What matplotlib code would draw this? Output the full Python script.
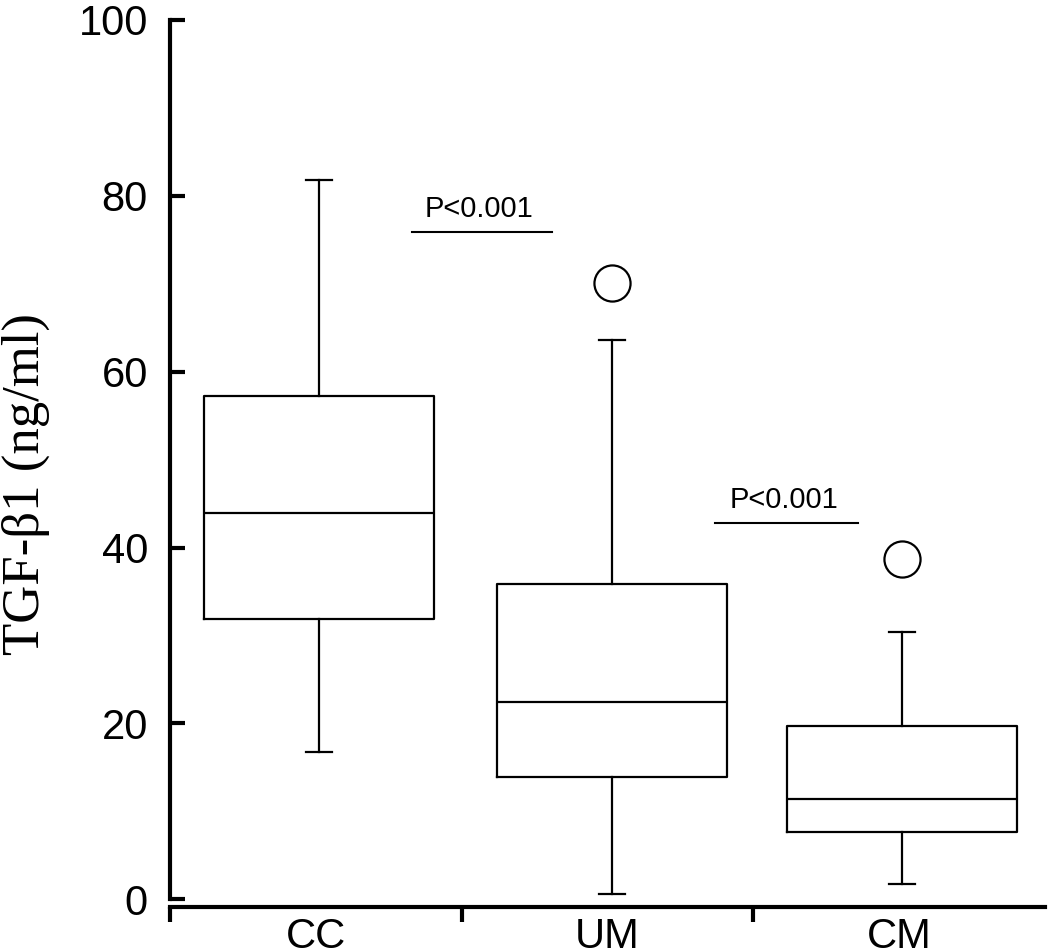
import matplotlib
matplotlib.use("Agg")
import matplotlib.pyplot as plt

# group names and box statistics (ng/ml)
groups = ["CC", "UM", "CM"]
whislo = [16.8, 0.6, 1.7]
q1 = [31.9, 13.9, 7.7]
med = [43.9, 22.4, 11.4]
q3 = [57.2, 35.9, 19.7]
whishi = [81.8, 63.6, 30.4]
fliers = [[], [70.1], [38.7]]

# significance brackets: (x start, x end, y, label)
sig_x0 = [0.83, 1.87]
sig_x1 = [1.31, 2.36]
sig_y = [75.9, 42.8]
sig_txt = ["P<0.001", "P<0.001"]

stats = []
for i in range(len(groups)):
    stats.append(dict(label=groups[i], whislo=whislo[i], q1=q1[i], med=med[i],
                      q3=q3[i], whishi=whishi[i], fliers=fliers[i]))

fig = plt.figure(figsize=(10.5, 9.52), dpi=100)
ax = fig.add_axes([0.162, 0.047, 0.833, 0.932])

lw = 1.6
ax.bxp(stats, positions=[0.51, 1.515, 2.51], widths=0.79, capwidths=0.09,
       showfliers=True, patch_artist=False,
       boxprops=dict(color="black", linewidth=lw),
       medianprops=dict(color="black", linewidth=lw),
       whiskerprops=dict(color="black", linewidth=lw),
       capprops=dict(color="black", linewidth=lw),
       flierprops=dict(marker="o", markersize=26, markerfacecolor="white",
                       markeredgecolor="black", markeredgewidth=1.6))

for i in range(len(sig_y)):
    ax.plot([sig_x0[i], sig_x1[i]], [sig_y[i], sig_y[i]], color="black", lw=1.5)
    ax.text((sig_x0[i] + sig_x1[i]) / 2 - 0.01, sig_y[i] + 1.0, sig_txt[i],
            ha="center", va="bottom", fontsize=21, family="Liberation Sans")

ax.set_xlim(0, 3)
ax.set_ylim(-0.9, 100)
ax.spines["top"].set_visible(False)
ax.spines["right"].set_visible(False)
ax.spines["left"].set_linewidth(3)
ax.spines["bottom"].set_linewidth(3)
ax.spines["left"].set_bounds(0, 100)

ax.set_yticks([0, 20, 40, 60, 80, 100])
ax.tick_params(axis="y", direction="in", length=11, width=3, pad=16, labelsize=30)
for t in ax.get_yticklabels():
    t.set_family("Liberation Sans")

# major ticks at the group borders, labels on minor ticks at the centres
ax.set_xticks([0, 1, 2])
ax.set_xticklabels([])
ax.set_xticks([0.5, 1.5, 2.5], minor=True)
ax.set_xticklabels(groups, minor=True)
ax.tick_params(axis="x", which="major", direction="out", length=11, width=3)
ax.tick_params(axis="x", which="minor", length=0, pad=7, labelsize=30)
for t in ax.get_xticklabels(minor=True):
    t.set_family("Liberation Sans")

ax.set_ylabel("TGF-\u03b21 (ng/ml)", fontsize=38, family="Liberation Serif")
ax.yaxis.set_label_coords(-0.137, 0.477)

fig.savefig("out.png", dpi=100)
